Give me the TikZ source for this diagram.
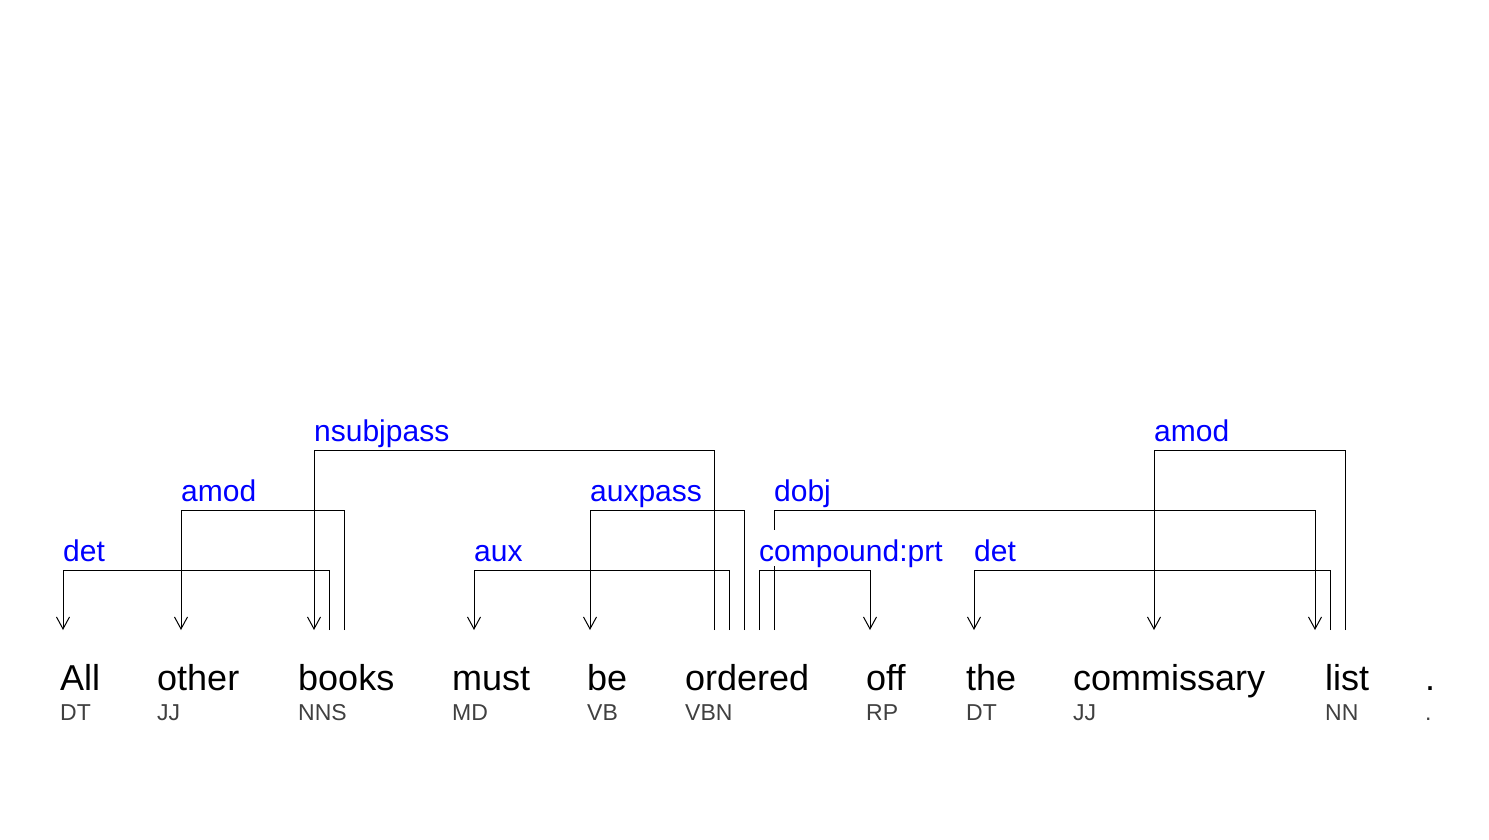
\documentclass[tikz,border=0pt]{standalone}
\usepackage{fontspec}
\setmainfont{Liberation Sans}
\usetikzlibrary{arrows.meta}
\definecolor{tagc}{RGB}{64,64,64}
\definecolor{labc}{RGB}{0,0,255}
\begin{document}
\begin{tikzpicture}[x=1pt,y=-1pt,
  word/.style={anchor=base west,inner sep=0pt,font=\fontsize{36}{40}\selectfont},
  tag/.style={anchor=base west,inner sep=0pt,text=tagc,font=\fontsize{23}{26}\selectfont},
  lab/.style={anchor=base west,fill=white,inner xsep=1pt,inner ysep=0pt,text height=31pt,text depth=4.5pt,text=labc,font=\fontsize{30}{34}\selectfont},
  arc/.style={line width=1pt,-{Straight Barb[length=12pt,width=13pt,line width=1pt]}}]
\useasboundingbox (0,0) rectangle (1489,840);
% words and tags
\foreach \n/\x/\w/\t in {w1/60/All/DT, w2/157/other/JJ, w3/298/books/NNS, w4/452/must/MD, w5/587/be/VB, w6/685/ordered/VBN, w7/866/off/RP, w8/966/the/DT, w9/1073/commissary/JJ, w10/1325/list/NN, w11/1425/./.}{
  \node[word] (\n) at (\x,690) {\w};
  \node[tag] (\n t) at (\x,720) {\t};
}
% attachment points (y = 630)
\coordinate (all) at (63,630);
\coordinate (other) at (181,630);
\coordinate (booksA) at (314,630);
\coordinate (booksB) at (329,630);
\coordinate (booksC) at (344,630);
\coordinate (must) at (474,630);
\coordinate (be) at (590,630);
\coordinate (ordA) at (714,630);
\coordinate (ordB) at (729,630);
\coordinate (ordC) at (744,630);
\coordinate (ordD) at (759,630);
\coordinate (ordE) at (774,630);
\coordinate (off) at (870,630);
\coordinate (the) at (974,630);
\coordinate (comm) at (1154,630);
\coordinate (listA) at (1315,630);
\coordinate (listB) at (1330,630);
\coordinate (listC) at (1345,630);
% connectors
\draw[arc] (booksB) -- ++(0,-60) -| (all);
\draw[arc] (booksC) -- ++(0,-120) -| (other);
\draw[arc] (ordA) -- ++(0,-180) -| (booksA);
\draw[arc] (ordB) -- ++(0,-60) -| (must);
\draw[arc] (ordC) -- ++(0,-120) -| (be);
\draw[arc] (ordD) -- ++(0,-60) -| (off);
\draw[arc] (ordE) -- ++(0,-120) -| (listA);
\draw[arc] (listB) -- ++(0,-60) -| (the);
\draw[arc] (listC) -- ++(0,-180) -| (comm);
% labels
\node[lab] (l1) at (62,561) {det};
\node[lab] (l2) at (180,501) {amod};
\node[lab] (l3) at (313,441) {nsubjpass};
\node[lab] (l4) at (473,561) {aux};
\node[lab] (l5) at (589,501) {auxpass};
\node[lab] (l6) at (758,561) {compound:prt};
\node[lab] (l7) at (773,501) {dobj};
\node[lab] (l8) at (973,561) {det};
\node[lab] (l9) at (1153,441) {amod};
\end{tikzpicture}
\end{document}
